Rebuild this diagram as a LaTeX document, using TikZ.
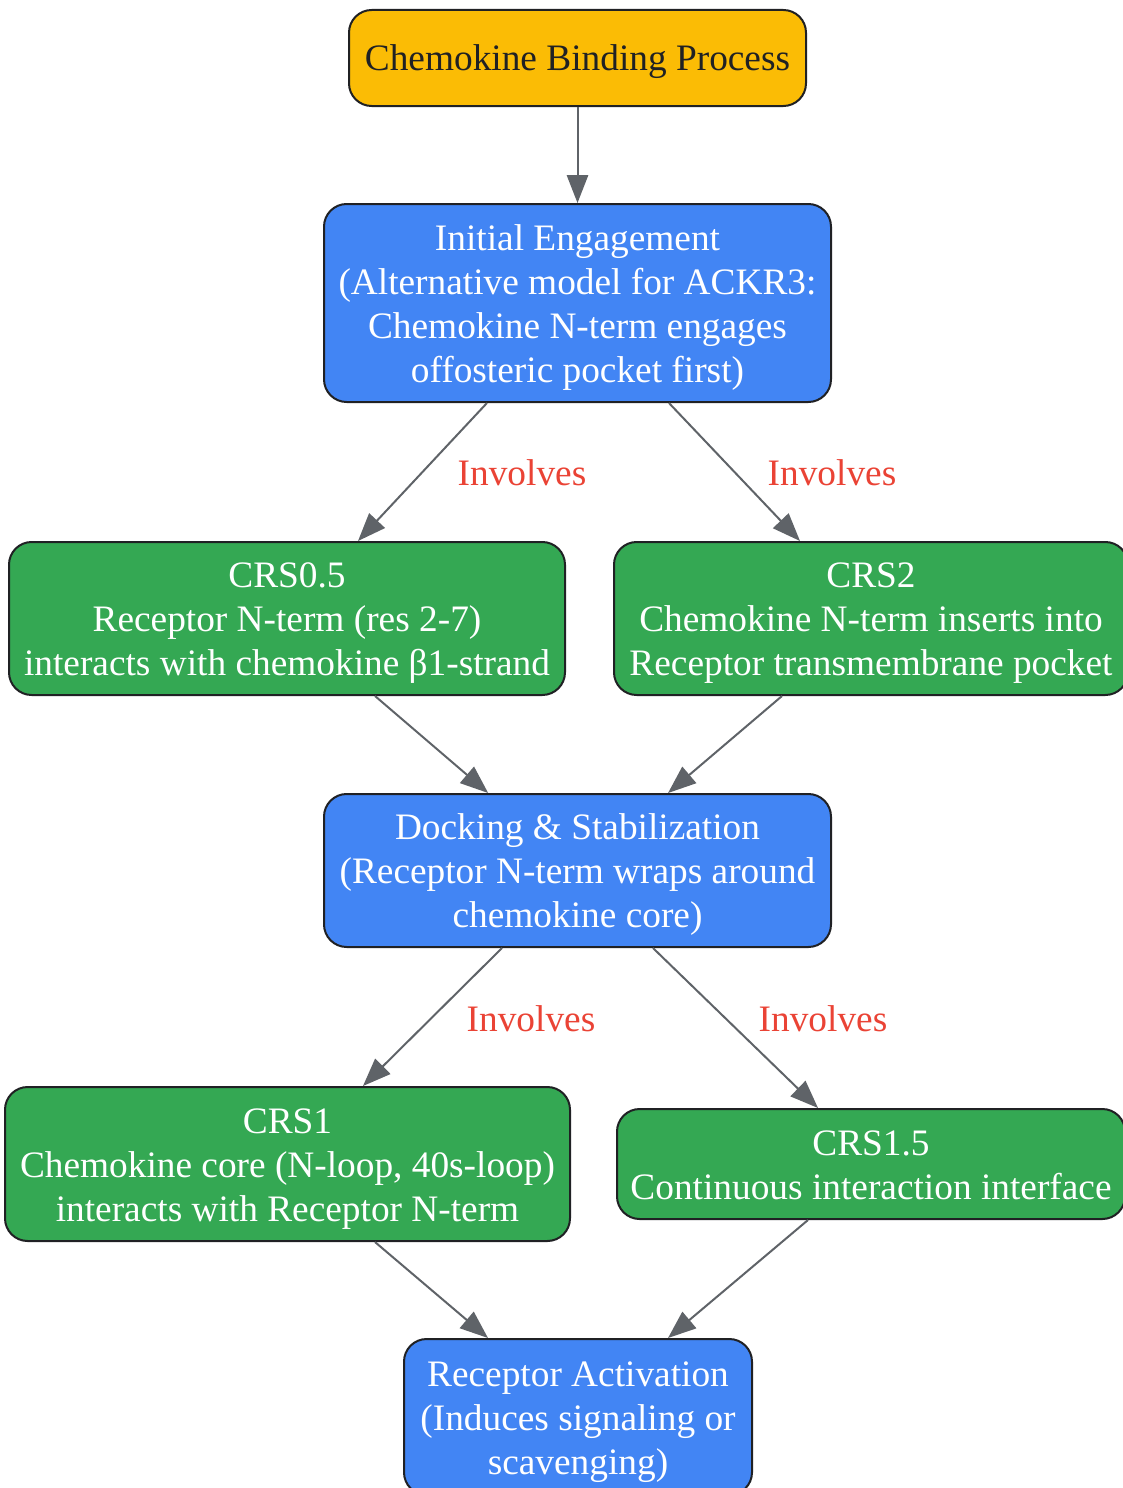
\documentclass[tikz,border=0pt]{standalone}
\usepackage{fontspec}
\setmainfont{Liberation Serif}
\usepackage{xcolor}
\usepackage{tikz}
\usetikzlibrary{arrows.meta,calc}
\definecolor{gyellow}{HTML}{FBBC05}
\definecolor{gblue}{HTML}{4285F4}
\definecolor{ggreen}{HTML}{34A853}
\definecolor{gred}{HTML}{EA4335}
\definecolor{ggray}{HTML}{5F6368}
\definecolor{gdark}{HTML}{202124}
\tikzstyle{stage}=[rectangle, rounded corners=17pt, draw=gdark, line width=1.5pt,% all boxes
align=center, inner sep=0pt, font=\fontsize{28}{33}\selectfont, text depth=7.5pt]
\tikzstyle{start}=[stage, fill=gyellow, text=gdark]
\tikzstyle{phase}=[stage, fill=gblue, text=white]
\tikzstyle{crs}=[stage, fill=ggreen, text=white]
\tikzstyle{lbl}=[text=gred, inner sep=0pt, font=\fontsize{28}{33}\selectfont]
\tikzstyle{dgraph}=[-{Triangle[length=21pt,width=16pt]}, draw=ggray, line width=1.5pt]

\begin{document}
\begin{tikzpicture}[x=0.75pt,y=-0.75pt]
\useasboundingbox (0,0) rectangle (1122,1488);
\node[start, minimum width=342.75pt, minimum height=72pt, text height=27pt] (begin) at (577.5,58) {Chemokine Binding Process};
\node[phase, minimum width=380.25pt, minimum height=148.5pt, text height=126pt] (ie) at (577.5,303) {Initial Engagement\\(Alternative model for ACKR3:\\Chemokine N-term engages\\offosteric pocket first)};
\node[crs, minimum width=417pt, minimum height=114.75pt, text height=93pt] (crs05) at (287,618.5) {CRS0.5\\Receptor N-term (res 2-7)\\interacts with chemokine β1-strand};
\node[crs, minimum width=385.5pt, minimum height=114.75pt, text height=93pt] (crs2) at (871,618.5) {CRS2\\Chemokine N-term inserts into\\Receptor transmembrane pocket};
\node[phase, minimum width=380.25pt, minimum height=114.75pt, text height=93pt] (dock) at (577.5,870.5) {Docking \& Stabilization\\(Receptor N-term wraps around\\chemokine core)};
\node[crs, minimum width=423.75pt, minimum height=115.5pt, text height=93pt] (crs1) at (287.5,1164) {CRS1\\Chemokine core (N-loop, 40s-loop)\\interacts with Receptor N-term};
\node[crs, minimum width=381pt, minimum height=82.5pt, text height=60pt] (crs15) at (871,1164) {CRS1.5\\Continuous interaction interface};
\node[phase, minimum width=261pt, minimum height=117pt, text height=93pt] (act) at (578,1417) {Receptor Activation\\(Induces signaling or\\scavenging)};
% edge labels
\node[lbl] (l1) at (522,473) {Involves};
\node[lbl] (l2) at (832,473) {Involves};
\node[lbl] (l3) at (531,1019) {Involves};
\node[lbl] (l4) at (823,1019) {Involves};
\draw[dgraph] (begin) -- (ie);
\draw[dgraph] ([xshift=-67.9pt]ie.south) -- ([xshift=53.25pt]crs05.north);
\draw[dgraph] ([xshift=68.6pt]ie.south) -- ([xshift=-53.25pt]crs2.north);
\draw[dgraph] ([xshift=66pt]crs05.south) -- ([xshift=-67pt]dock.north);
\draw[dgraph] ([xshift=-66.75pt]crs2.south) -- ([xshift=67.9pt]dock.north);
\draw[dgraph] ([xshift=-56.6pt]dock.south) -- ([xshift=56.6pt]crs1.north);
\draw[dgraph] ([xshift=56.6pt]dock.south) -- ([xshift=-39.75pt]crs15.north);
\draw[dgraph] ([xshift=65.6pt]crs1.south) -- ([xshift=-67.5pt]act.north);
\draw[dgraph] ([xshift=-47.25pt]crs15.south) -- ([xshift=67.5pt]act.north);
\end{tikzpicture}
\end{document}
